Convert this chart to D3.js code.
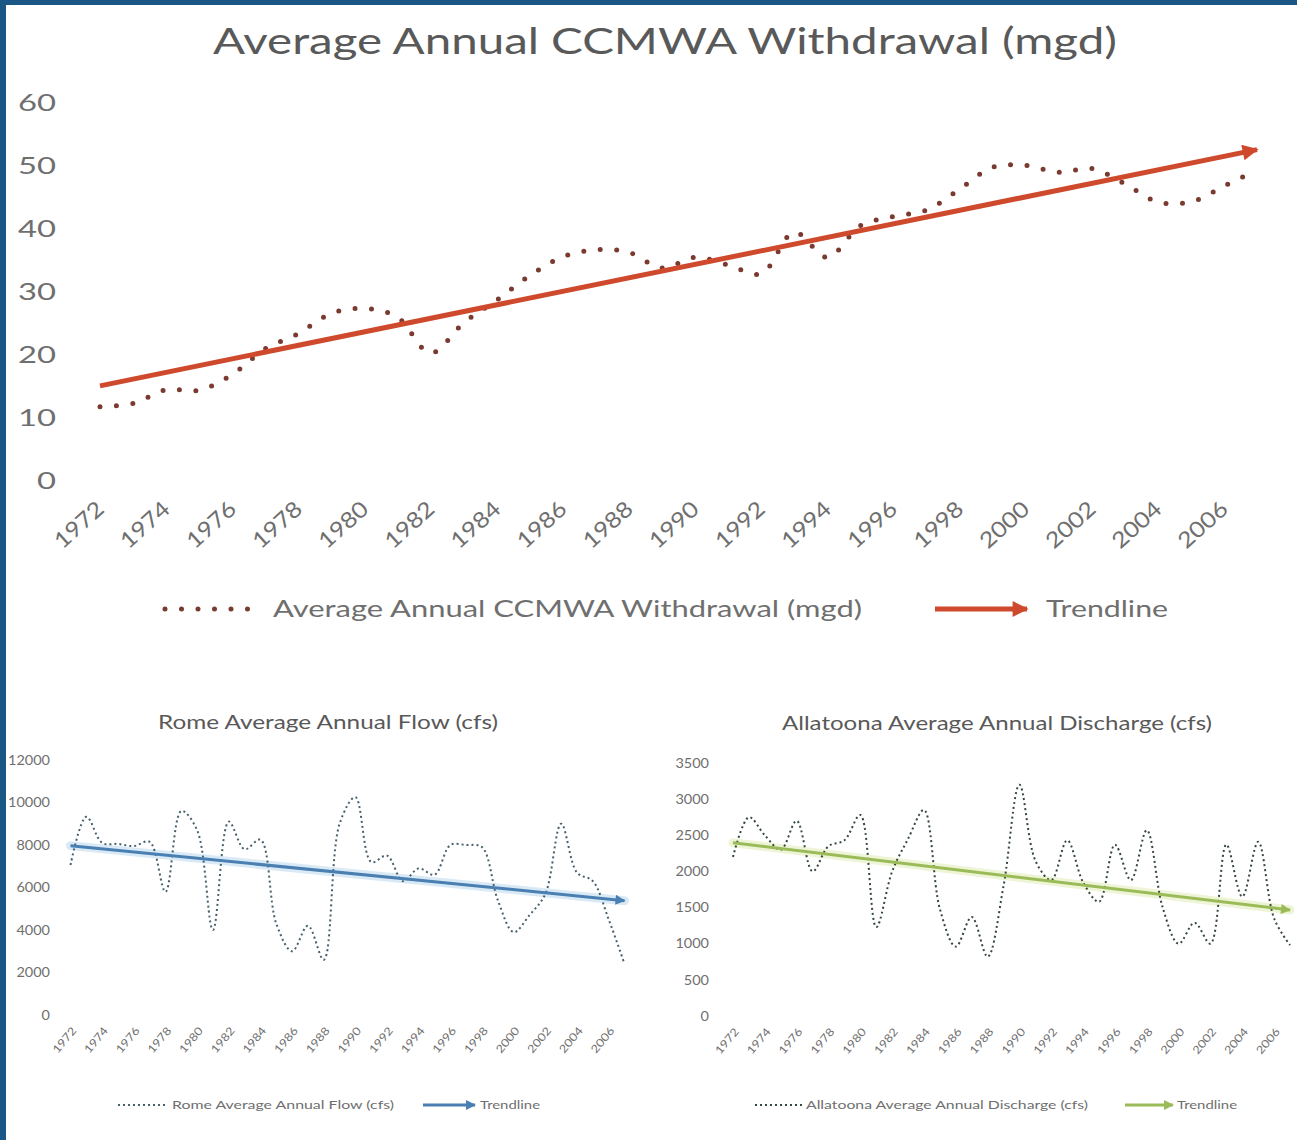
<!DOCTYPE html>
<html>
<head>
<meta charset="utf-8">
<script src="https://cdn.jsdelivr.net/npm/d3@7"></script>
<style>
  body { margin: 0; background: #fff; }
  svg { display: block; font-family: Lato, "Open Sans", sans-serif; }
</style>
</head>
<body>
<div id="chart"></div>
<script>
// ---- data ----
var years = d3.range(1972, 2008);
var tickYears = d3.range(1972, 2007, 2);

var ccmwa = [11.8, 12.3, 14.5, 14.4, 16.9, 21.0, 23.4, 26.6, 27.4, 26.0, 20.3, 25.1,
             28.7, 32.6, 35.6, 36.7, 36.3, 33.8, 35.5, 34.3, 32.9, 39.5, 35.5, 40.5,
             42.0, 43.0, 46.3, 49.8, 50.1, 49.0, 49.6, 47.2, 44.3, 44.3, 46.8, 49.4];
var ccmwaTrend = [15.1, 52.6];
var ccmwaTicks = [0, 10, 20, 30, 40, 50, 60];

var rome = [7060, 9330, 8100, 8050, 7950, 8150, 5800, 9600, 8700, 4000, 9100, 7800,
            8250, 4300, 3000, 4200, 2600, 9000, 10250, 7200, 7500, 6300, 6900, 6600,
            8000, 8000, 7900, 5400, 3900, 4700, 5700, 9000, 6700, 6300, 4500, 2400];
var romeTrend = [7970, 5380];
var romeTicks = [0, 2000, 4000, 6000, 8000, 10000, 12000];

var alla = [2200, 2750, 2500, 2300, 2700, 2000, 2350, 2430, 2780, 1230, 2000, 2450,
            2850, 1480, 960, 1370, 820, 1800, 3200, 2150, 1880, 2430, 1850, 1580,
            2370, 1880, 2570, 1500, 1000, 1290, 1000, 2370, 1650, 2410, 1350, 980];
var allaTrend = [2397, 1466];
var allaTicks = [0, 500, 1000, 1500, 2000, 2500, 3000, 3500];

var width = 1297, height = 1140;

var svg = d3.select("#chart").append("svg")
    .attr("width", width)
    .attr("height", height);

svg.append("rect").attr("width", width).attr("height", height).attr("fill", "#fff");
// dark blue frame on left and top
svg.append("rect").attr("x", 0).attr("y", 0).attr("width", 6).attr("height", height).attr("fill", "#1b5784");
svg.append("rect").attr("x", 0).attr("y", 0).attr("width", width).attr("height", 5).attr("fill", "#1b5784");

var defs = svg.append("defs");

function addMarker(id, color, w, h) {
  defs.append("marker")
    .attr("id", id)
    .attr("viewBox", "0 0 10 10")
    .attr("refX", 9).attr("refY", 5)
    .attr("markerUnits", "userSpaceOnUse")
    .attr("markerWidth", w).attr("markerHeight", h)
    .attr("orient", "auto")
    .append("path")
    .attr("d", "M0,0 L10,5 L0,10 z")
    .attr("fill", color);
}

function stretch(sel, w) {
  sel.attr("textLength", w).attr("lengthAdjust", "spacingAndGlyphs");
}

function drawPanel(p) {
  var g = svg.append("g");
  addMarker(p.id + "-arrow", p.trendColor, p.arrow[0], p.arrow[1]);

  var x = d3.scaleLinear().domain([years[0], years[years.length - 1]]).range(p.xRange);
  var y = d3.scaleLinear().domain([0, p.ticks[p.ticks.length - 1]]).range(p.yRange);

  // title
  g.append("text")
    .attr("x", p.title.x).attr("y", p.title.y)
    .attr("font-size", p.title.size)
    .attr("fill", "#595959")
    .text(p.title.text)
    .call(stretch, p.title.w);

  // y axis labels
  var ya = g.append("g")
    .attr("transform", "translate(" + p.yLabelX + ",0)")
    .call(d3.axisLeft(y).tickValues(p.ticks).tickFormat(d3.format("d")).tickSize(0).tickPadding(0));
  ya.select(".domain").remove();
  ya.attr("font-family", null).attr("font-size", null);
  ya.selectAll("text")
    .attr("font-size", p.tickSize)
    .attr("fill", "#6f6f6f")
    .attr("textLength", function(d) { return String(d).length * p.digitW; })
    .attr("lengthAdjust", "spacingAndGlyphs");

  // x axis labels (rotated)
  var xa = g.append("g")
    .attr("transform", "translate(0," + p.xAxisY + ")")
    .call(d3.axisBottom(x).tickValues(tickYears).tickFormat(d3.format("d")).tickSize(0));
  xa.select(".domain").remove();
  xa.attr("font-family", null).attr("font-size", null);
  xa.selectAll("text")
    .attr("x", 0).attr("y", 0).attr("dy", 0)
    .attr("text-anchor", "end")
    .attr("font-size", p.xl.size)
    .attr("fill", "#6f6f6f")
    .attr("transform", "translate(" + p.xl.dx + "," + p.xl.dy + ") rotate(" + p.xl.rot + ")")
    .call(stretch, p.xl.len);

  // trendline
  var trendData = [[years[0], p.trend[0]], [years[years.length - 1], p.trend[1]]];
  var trendLine = d3.line().x(function(d) { return x(d[0]); }).y(function(d) { return y(d[1]); });
  if (p.halo) {
    g.append("path").datum(trendData).attr("d", trendLine)
      .attr("fill", "none").attr("stroke", p.halo).attr("stroke-width", p.trendW + 6)
      .attr("stroke-linecap", "round");
  }

  // series (smoothed dotted line)
  var line = d3.line()
    .x(function(d, i) { return x(years[i]); })
    .y(function(d) { return y(d); })
    .curve(d3.curveCatmullRom);
  g.append("path").datum(p.values)
    .attr("d", line)
    .attr("fill", "none")
    .attr("stroke", p.dotColor)
    .attr("stroke-width", p.dotW)
    .attr("stroke-linecap", p.cap)
    .attr("stroke-dasharray", p.dash);

  g.append("path").datum(trendData).attr("d", trendLine)
    .attr("fill", "none").attr("stroke", p.trendColor).attr("stroke-width", p.trendW)
    .attr("marker-end", "url(#" + p.id + "-arrow)");

  // legend
  var L = p.legend;
  g.append("line")
    .attr("x1", L.dots[0]).attr("x2", L.dots[1]).attr("y1", L.y).attr("y2", L.y)
    .attr("stroke", p.dotColor).attr("stroke-width", p.dotW)
    .attr("stroke-linecap", p.cap).attr("stroke-dasharray", p.dash);
  g.append("text").attr("x", L.text1[0]).attr("y", L.y + L.base)
    .attr("font-size", L.size).attr("fill", "#6f6f6f")
    .text(p.seriesName).call(stretch, L.text1[1]);
  g.append("line")
    .attr("x1", L.arrow[0]).attr("x2", L.arrow[1]).attr("y1", L.y).attr("y2", L.y)
    .attr("stroke", p.trendColor).attr("stroke-width", p.trendW)
    .attr("marker-end", "url(#" + p.id + "-arrow)");
  g.append("text").attr("x", L.text2[0]).attr("y", L.y + L.base)
    .attr("font-size", L.size).attr("fill", "#6f6f6f")
    .text("Trendline").call(stretch, L.text2[1]);
}

drawPanel({
  id: "ccmwa",
  values: ccmwa, trend: ccmwaTrend, ticks: ccmwaTicks,
  seriesName: "Average Annual CCMWA Withdrawal (mgd)",
  xRange: [100, 1257], yRange: [481, 103],
  title: { text: "Average Annual CCMWA Withdrawal (mgd)", x: 213, y: 54, size: 37, w: 904 },
  yLabelX: 56, tickSize: 23, digitW: 19,
  xAxisY: 481, xl: { size: 22, dx: 5, dy: 30, rot: -42, len: 58 },
  dotColor: "#7a3a30", dotW: 5, cap: "round", dash: "0 16.5",
  trendColor: "#cf4a2c", trendW: 5, arrow: [22, 16],
  legend: { y: 609, base: 8, size: 23, dots: [165, 262], text1: [273, 589], arrow: [935, 1027], text2: [1046, 122] }
});

drawPanel({
  id: "rome",
  values: rome, trend: romeTrend, ticks: romeTicks,
  seriesName: "Rome Average Annual Flow (cfs)",
  xRange: [70.5, 624.5], yRange: [1015, 760],
  title: { text: "Rome Average Annual Flow (cfs)", x: 158, y: 729, size: 20, w: 340 },
  yLabelX: 50, tickSize: 13, digitW: 8.4,
  xAxisY: 1015, xl: { size: 11, dx: 6, dy: 16, rot: -50, len: 30 },
  dotColor: "#46606c", dotW: 2, cap: "butt", dash: "2 3",
  trendColor: "#4a7fb2", trendW: 3, arrow: [11, 10], halo: "#d9eaf6",
  legend: { y: 1105, base: 4, size: 12, dots: [118, 168], text1: [172, 222], arrow: [423, 475], text2: [480, 60] }
});

drawPanel({
  id: "alla",
  values: alla, trend: allaTrend, ticks: allaTicks,
  seriesName: "Allatoona Average Annual Discharge (cfs)",
  xRange: [733, 1290], yRange: [1016, 763],
  title: { text: "Allatoona Average Annual Discharge (cfs)", x: 782, y: 730, size: 20, w: 430 },
  yLabelX: 709, tickSize: 13, digitW: 8.4,
  xAxisY: 1016, xl: { size: 11, dx: 6, dy: 16, rot: -50, len: 30 },
  dotColor: "#34483d", dotW: 2, cap: "butt", dash: "2 3",
  trendColor: "#9bbb59", trendW: 3, arrow: [11, 10], halo: "#eef5d6",
  legend: { y: 1105, base: 4, size: 12, dots: [755, 803], text1: [806, 282], arrow: [1125, 1173], text2: [1177, 60] }
});
</script>
</body>
</html>
